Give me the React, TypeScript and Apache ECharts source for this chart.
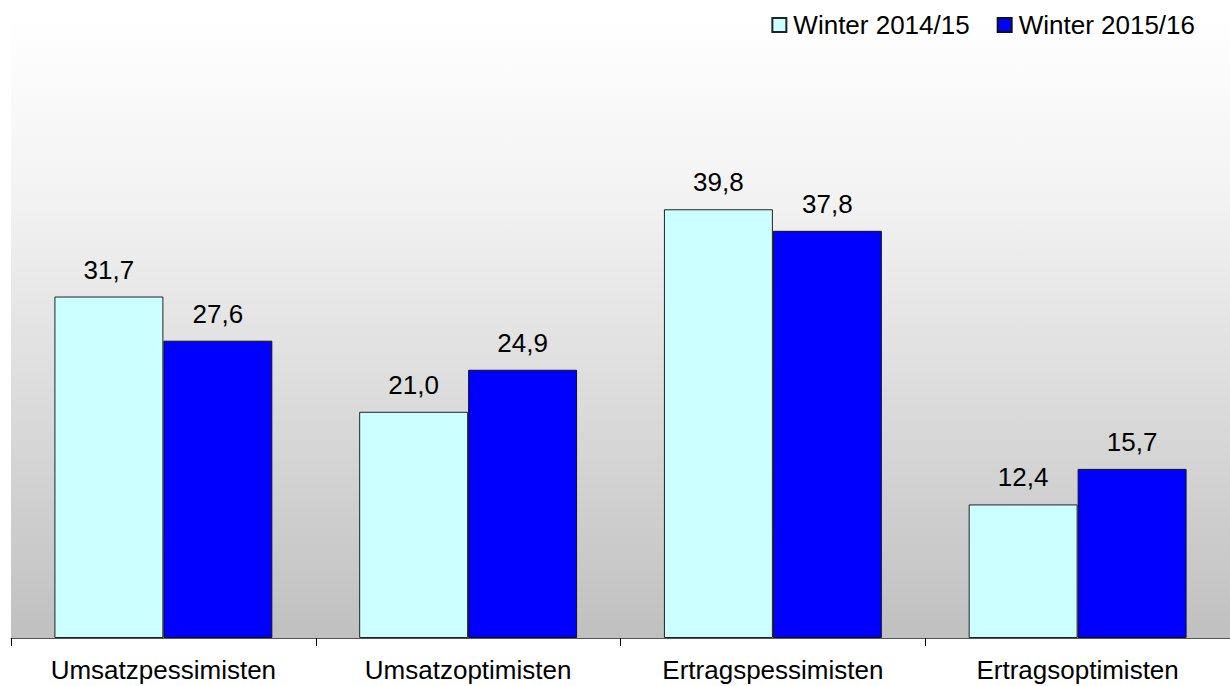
import React, { useEffect, useRef } from "react";
import * as echarts from "echarts";

const categories = ["Umsatzpessimisten", "Umsatzoptimisten", "Ertragspessimisten", "Ertragsoptimisten"];
const seriesNames = ["Winter 2014/15", "Winter 2015/16"];
const winter1415 = [31.7, 21.0, 39.8, 12.4];
const winter1516 = [27.6, 24.9, 37.8, 15.7];

const FONT = "'Liberation Sans', Arial, sans-serif";

export default function App() {
  const ref = useRef<HTMLDivElement>(null);
  useEffect(() => {
    if (!ref.current) return;
    const chart = echarts.init(ref.current, null, { renderer: "svg" });
    const fmt = (p: any) => Number(p.value).toFixed(1).replace(".", ",");
    const labelCfg = {
      show: true,
      position: "top" as const,
      distance: 14,
      formatter: fmt,
      color: "#000",
      fontSize: 26,
      fontFamily: FONT,
    };
    chart.setOption({
      animation: false,
      backgroundColor: "#ffffff",
      textStyle: { fontFamily: FONT },
      legend: {
        top: 7,
        right: 30,
        itemWidth: 14,
        itemHeight: 14,
        itemGap: 27,
        icon: "rect",
        textStyle: { color: "#000", fontSize: 26, fontFamily: FONT, padding: [0, 0, 0, 2] },
        data: seriesNames,
      },
      grid: {
        left: 11,
        right: 0,
        top: 17,
        bottom: 48,
        containLabel: false,
        show: true,
        borderWidth: 0,
        backgroundColor: {
          type: "linear",
          x: 0,
          y: 0,
          x2: 0,
          y2: 1,
          colorStops: [
            { offset: 0, color: "#ffffff" },
            { offset: 0.3, color: "#f2f2f2" },
            { offset: 1, color: "#c0c0c0" },
          ],
        },
      },
      xAxis: {
        type: "category",
        data: categories,
        axisLine: { show: true, lineStyle: { color: "#555", width: 1 } },
        axisTick: { show: true, length: 8, lineStyle: { color: "#000" } },
        axisLabel: { color: "#000", fontSize: 26, fontFamily: FONT, margin: 19 },
      },
      yAxis: {
        type: "value",
        min: 0,
        max: 57.65,
        show: false,
        splitLine: { show: false },
      },
      series: [
        {
          name: seriesNames[0],
          type: "bar",
          data: winter1415,
          barGap: "0%",
          barCategoryGap: "28.5%",
          itemStyle: { color: "#CCFFFF", borderColor: "#222", borderWidth: 1 },
          label: labelCfg,
        },
        {
          name: seriesNames[1],
          type: "bar",
          data: winter1516,
          barGap: "0%",
          barCategoryGap: "28.5%",
          itemStyle: { color: "#0000FF", borderColor: "#111", borderWidth: 1 },
          label: labelCfg,
        },
      ],
    });
    return () => chart.dispose();
  }, []);
  return (
    <div
      ref={ref}
      style={{ position: "fixed", left: 0, top: 0, width: 1230, height: 686 }}
    />
  );
}
